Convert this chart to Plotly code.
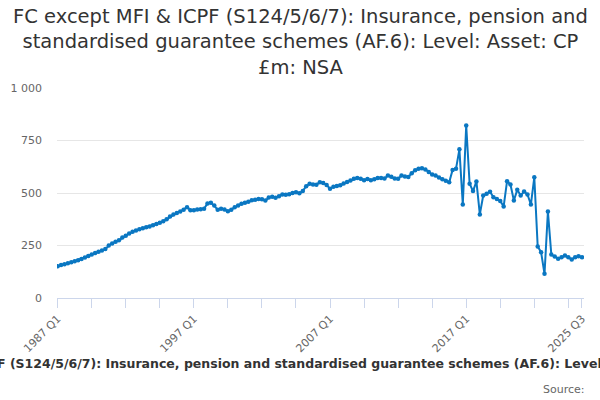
import plotly.graph_objects as go

# quarters 1987 Q1 .. 2025 Q3
quarters = []
for yr in range(1987, 2026):
    for q in range(1, 5):
        quarters.append("%d Q%d" % (yr, q))
quarters = quarters[:155]

values = [
    151, 157, 161, 165, 170, 175, 180, 186, 193, 200,
    207, 214, 220, 226, 233, 250, 260, 268, 275, 288,
    297, 307, 316, 322, 327, 332, 337, 341, 346, 352,
    358, 365, 375, 388, 398, 405, 412, 420, 432, 418,
    418, 421, 423, 425, 450, 453, 440, 420, 425, 422,
    413, 420, 432, 440, 449, 453, 458, 465, 468, 472,
    470, 464, 478, 482, 477, 485, 493, 492, 494, 500,
    504, 499, 510, 532, 544, 540, 539, 551, 548, 538,
    520, 530, 533, 537, 545, 552, 560, 568, 572, 568,
    561, 567, 561, 566, 571, 572, 569, 583, 577, 569,
    568, 583, 578, 576, 594, 608, 616, 618, 612, 600,
    588, 583, 574, 565, 558, 551, 610, 615, 708, 445,
    821, 544, 509, 555, 398, 488, 496, 506, 480, 472,
    462, 436, 556, 540, 464, 515, 488, 507, 493, 445,
    575, 245, 218, 115, 412, 207, 198, 187, 194, 202,
    194, 183, 194, 199, 194,
]

labelled = ["1987 Q1", "1997 Q1", "2007 Q1", "2017 Q1", "2025 Q3"]
tick_pos = quarters[::10] + [quarters[-1]]
tick_txt = [q if q in labelled else "" for q in tick_pos]

title = ("FC except MFI & ICPF (S124/5/6/7): Insurance, pension and<br>"
         "standardised guarantee schemes (AF.6): Level: Asset: CP<br>£m: NSA")
xtitle = ("FC except MFI & ICPF (S124/5/6/7): Insurance, pension and standardised "
          "guarantee schemes (AF.6): Level: Asset: CP £m: NSA")

blue = "#0a77c2"
fig = go.Figure(go.Scatter(
    x=quarters, y=values, mode="lines+markers",
    line=dict(color=blue, width=2),
    marker=dict(color=blue, size=4.5),
))

fig.update_layout(
    width=600, height=400,
    margin=dict(l=57, r=16, t=88, b=102, autoexpand=False),
    paper_bgcolor="white", plot_bgcolor="white",
    font=dict(family="DejaVu Sans", color="#666666"),
    separators=". ",
    showlegend=False,
)
fig.update_xaxes(
    type="category", range=[-0.2, 154.6], automargin=False,
    tickmode="array", tickvals=tick_pos, ticktext=tick_txt,
    tickangle=-45, tickfont=dict(size=11, color="#666666"),
    ticks="outside", ticklen=9, tickcolor="#ccd6eb",
    showline=True, linecolor="#ccd6eb", linewidth=1,
    showgrid=False, zeroline=False,
)
fig.update_yaxes(
    range=[0, 1000], tickvals=[0, 250, 500, 750, 1000], tickformat=",d",
    tickfont=dict(size=11, color="#666666"), automargin=False,
    showgrid=True, gridcolor="#e6e6e6", zeroline=False,
    ticklabelstandoff=14,
)
# chart title
fig.add_annotation(text=title, xref="paper", yref="paper",
                   x=(300 - 57) / 527, y=1.405, xanchor="center", yanchor="top",
                   showarrow=False, font=dict(size=19.5, color="#333333"))
# axis title (too wide, runs off both edges like the original)
fig.add_annotation(text="<b>" + xtitle + "</b>", xref="paper", yref="paper",
                   x=0.459, y=-0.314, xanchor="center", yanchor="middle",
                   showarrow=False, font=dict(size=12.5, color="#333333"))
fig.add_annotation(text="Source:", xref="paper", yref="paper",
                   x=1.005, y=-0.438, xanchor="right", yanchor="middle",
                   showarrow=False, font=dict(size=11, color="#666666"))

# drop the page's default body margin so the 600x400 figure fills the window
fig.write_html("out.html", config={"displayModeBar": False},
               post_script="document.body.style.margin='0';")
